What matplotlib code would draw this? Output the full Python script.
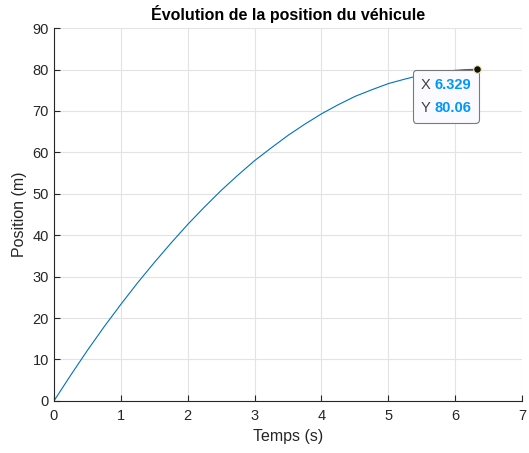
import matplotlib
matplotlib.use("Agg")
import matplotlib.pyplot as plt
from matplotlib.offsetbox import TextArea, HPacker, VPacker, AnnotationBbox

# positions (s, m)
temps = [0.0, 0.25, 0.5, 0.75, 1.0, 1.25, 1.5, 1.75, 2.0, 2.25, 2.5, 2.75,
         3.0, 3.25, 3.5, 3.75, 4.0, 4.25, 4.5, 4.75, 5.0, 5.25, 5.5, 5.75,
         6.0, 6.15, 6.329]
position = [0.0, 6.2, 12.2, 17.9, 23.3, 28.5, 33.4, 38.1, 42.6, 46.8, 50.8,
            54.5, 58.0, 61.1, 64.1, 66.8, 69.3, 71.5, 73.5, 75.1, 76.6, 77.7,
            78.7, 79.4, 79.8, 79.97, 80.06]
x_ticks = [0, 1, 2, 3, 4, 5, 6, 7]
y_ticks = [0, 10, 20, 30, 40, 50, 60, 70, 80, 90]

plt.rcParams["font.family"] = ["Liberation Sans", "DejaVu Sans"]
axis_col = "#262626"

fig = plt.figure(figsize=(5.29, 4.53), dpi=100)
ax = fig.add_axes([0.102, 0.115, 0.885, 0.823])

ax.plot(temps, position, color="#0072BD", lw=0.8, solid_joinstyle="round")

ax.set_xlim(0, 7)
ax.set_ylim(0, 90)
ax.set_xticks(x_ticks)
ax.set_yticks(y_ticks)
ax.grid(True, color="#E3E3E3", lw=0.8)
ax.set_axisbelow(True)
for side in ["top", "right"]:
    ax.spines[side].set_visible(False)
for side in ["left", "bottom"]:
    ax.spines[side].set_color(axis_col)
    ax.spines[side].set_linewidth(0.8)
ax.tick_params(direction="in", length=4, colors=axis_col, labelsize=10.5,
               width=0.8)
ax.tick_params(axis="x", pad=6)

ax.set_xlabel("Temps (s)", fontsize=11.5, color=axis_col)
ax.set_ylabel("Position (m)", fontsize=11.5, color=axis_col)
ax.set_title("Évolution de la position du véhicule", fontsize=11.5,
             fontweight="bold", color="black", pad=6)

# data tip
x_tip, y_tip = temps[-1], position[-1]

lab = dict(color="#404040", fontsize=10.5)
val = dict(color="#0096FF", fontsize=10.5, fontweight="bold")
rows = VPacker(children=[
    HPacker(children=[TextArea("X", textprops=lab),
                      TextArea(f"{x_tip:.3f}", textprops=val)], sep=3),
    HPacker(children=[TextArea("Y", textprops=lab),
                      TextArea(f"{y_tip:.2f}", textprops=val)], sep=3),
], sep=7, pad=0)
tip = AnnotationBbox(rows, (x_tip, y_tip), xybox=(-4.5, -6),
                     xycoords="data", boxcoords="offset points",
                     box_alignment=(1, 1), pad=0.55,
                     bboxprops=dict(boxstyle="round,pad=0.55,rounding_size=0.25",
                                    fc="#FAFAFF", ec="#7a7a7a", lw=0.8),
                     zorder=6)
ax.add_artist(tip)
ax.plot([x_tip], [y_tip], "o", ms=5.5, mfc="#111111", mec="#f2eaa0", mew=0.8,
        clip_on=False, zorder=7)

fig.savefig("out.png", dpi=100)
